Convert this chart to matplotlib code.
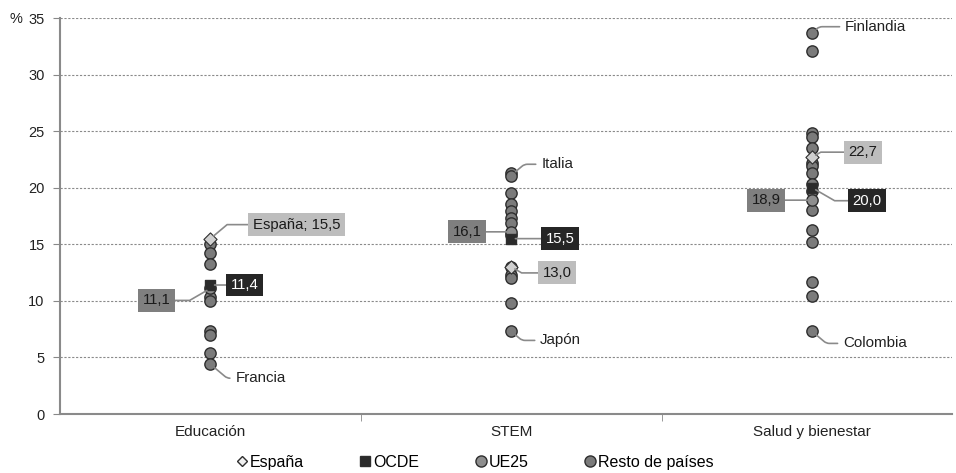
import matplotlib
matplotlib.use("Agg")
import matplotlib.pyplot as plt

plt.rcParams['font.family'] = ['Liberation Sans', 'DejaVu Sans']

categorias = ["Educación", "STEM", "Salud y bienestar"]
espana = [15.5, 13.0, 22.7]
ocde = [11.4, 15.5, 20.0]
ue25 = [11.1, 16.1, 18.9]
resto = [
    [15.0, 14.2, 13.3, 10.3, 10.0, 7.3, 7.0, 5.4, 4.4],
    [21.3, 21.0, 19.5, 18.6, 17.9, 17.3, 16.9, 15.8, 13.0, 12.3, 12.0, 9.8, 7.3],
    [33.7, 32.1, 24.8, 24.5, 23.5, 22.2, 21.9, 21.3, 20.3, 19.7, 18.0, 16.3, 15.2, 11.7, 10.4, 7.3],
]
destacados = [
    [("Francia", 4.4)],
    [("Italia", 21.1), ("Japón", 7.3)],
    [("Finlandia", 33.7), ("Colombia", 7.3)],
]
yticks = [0, 5, 10, 15, 20, 25, 30, 35]

fig = plt.figure(figsize=(9.56, 4.73), dpi=100)
ax = fig.add_axes([60/956, 59/473, (952-60)/956, (455-59)/473])

edge = "#2e2e2e"
c_resto = "#7b7b7b"
c_ue = "#8e8e8e"
c_ocde = "#2b2b2b"
c_esp = "#d0d0d0"

for i in range(len(categorias)):
    ax.scatter([i]*len(resto[i]), resto[i], s=66, c=c_resto, edgecolors=edge, linewidths=1.0, zorder=3)
for i in range(len(categorias)):
    ax.scatter([i], [ue25[i]], s=66, c=c_ue, edgecolors=edge, linewidths=1.0, zorder=4)
    ax.scatter([i], [ocde[i]], s=60, marker='s', c=c_ocde, edgecolors=edge, linewidths=1.0, zorder=5)
    ax.scatter([i], [espana[i]], s=45, marker='D', c=c_esp, edgecolors=edge, linewidths=0.8, zorder=6)

ax.set_xlim(-0.5, 2.465)
ax.set_ylim(0, 35)
ax.set_yticks(yticks)
ax.set_yticklabels([str(v) for v in yticks], fontsize=10.5, color="#222222")
ax.set_xticks([0, 1, 2])
ax.set_xticklabels(categorias, fontsize=11, color="#222222")
ax.tick_params(axis='x', which='major', length=0, pad=8)
ax.set_xticks([0.5, 1.5], minor=True)
ax.tick_params(axis='x', which='minor', length=5, color="#888888", direction='out')
ax.tick_params(axis='y', length=5, color="#888888", direction='out', pad=6)
ax.yaxis.grid(True, linestyle=(0, (2, 1.5)), color="#8a8a8a", linewidth=0.8)
ax.set_axisbelow(True)
for s in ['top', 'right']:
    ax.spines[s].set_visible(False)
for s in ['left', 'bottom']:
    ax.spines[s].set_color("#8a8a8a")
    ax.spines[s].set_linewidth(1.5)

fig.text(10/956, 1 - 19/473, "%", fontsize=10.5, va='center', ha='left', color="#222222")

lc = "#8a8a8a"

def box(i, val, text, off, fc, tc, cs):
    ax.annotate(text, xy=(i, val), xytext=off, textcoords='offset pixels',
                ha='center', va='center', fontsize=10.7, color=tc,
                bbox=dict(boxstyle='square,pad=0.3', fc=fc, ec='none'),
                arrowprops=dict(arrowstyle='-', color=lc, lw=1.2, shrinkA=0, shrinkB=3,
                                connectionstyle=cs), zorder=7)

def name(i, val, text, off, cs):
    ax.annotate(text, xy=(i, val), xytext=off, textcoords='offset pixels',
                ha='left', va='center', fontsize=10.9, color="#222222",
                arrowprops=dict(arrowstyle='-', color=lc, lw=1.2, shrinkA=2, shrinkB=4,
                                connectionstyle=cs), zorder=7)

# España labels
box(0, espana[0], "España; 15,5", (86, 14), "#bdbdbd", "#1a1a1a", "angle,angleA=0,angleB=40,rad=0")
box(1, espana[1], "13,0", (46, -6), "#bdbdbd", "#1a1a1a", "angle,angleA=0,angleB=-30,rad=0")
box(2, espana[2], "22,7", (51, 5), "#bdbdbd", "#1a1a1a", "angle,angleA=0,angleB=30,rad=0")
# OCDE labels
box(0, ocde[0], "11,4", (34, 0), "#262626", "white", "arc3")
box(1, ocde[1], "15,5", (49, 0), "#262626", "white", "arc3")
box(2, ocde[2], "20,0", (55, -13), "#262626", "white", "angle,angleA=0,angleB=-30,rad=0")
# UE25 labels
box(0, ue25[0], "11,1", (-54, -12), "#7f7f7f", "#1a1a1a", "angle,angleA=0,angleB=30,rad=0")
box(1, ue25[1], "16,1", (-44, 0), "#7f7f7f", "#1a1a1a", "arc3")
box(2, ue25[2], "18,9", (-46, 0), "#7f7f7f", "#1a1a1a", "arc3")
# named countries
name_offsets = [[(25, -14)], [(30, 11), (29, -9)], [(33, 6), (31, -12)]]
for i in range(3):
    for (t, v), off in zip(destacados[i], name_offsets[i]):
        ang = 40 if off[1] > 0 else -40
        name(i, v, t, off, "angle,angleA=0,angleB=%d,rad=3" % ang)

# legend
from matplotlib.lines import Line2D
handles = [
    Line2D([], [], ls='none', marker='D', ms=5.5, mfc="#f0f0f0", mec=edge, mew=1.0),
    Line2D([], [], ls='none', marker='s', ms=7.5, mfc=c_ocde, mec=edge),
    Line2D([], [], ls='none', marker='o', ms=8, mfc=c_ue, mec=edge),
    Line2D([], [], ls='none', marker='o', ms=8, mfc=c_resto, mec=edge),
]
fig.legend(handles, ["España", "OCDE", "UE25", "Resto de países"], loc='center',
           bbox_to_anchor=(474/956, 1 - 462/473), ncol=4, frameon=False, fontsize=11.5,
           handletextpad=0.05, columnspacing=3.4, handlelength=0.9)

fig.savefig("out.png", dpi=100)
